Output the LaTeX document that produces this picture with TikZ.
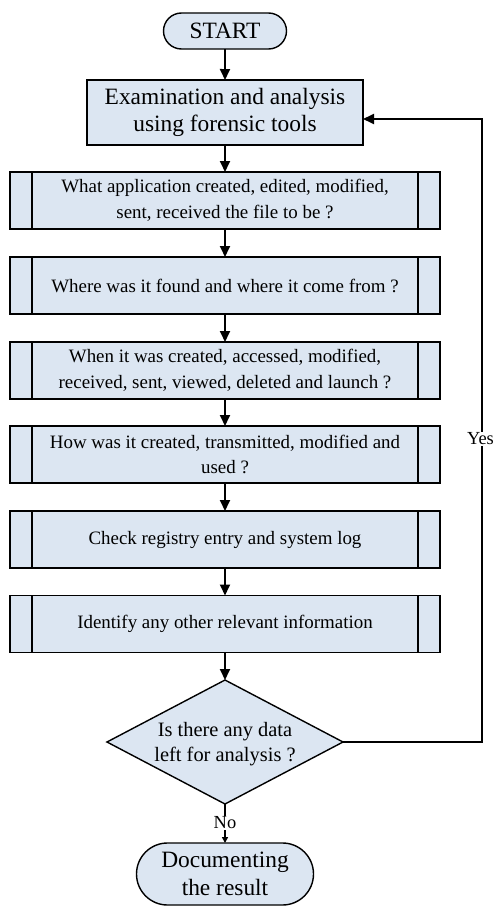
\documentclass[tikz,border=0pt]{standalone}
\usepackage{fontspec}
\setmainfont{Liberation Serif}
\usetikzlibrary{shapes.geometric,shapes.misc,arrows.meta,calc}
\definecolor{boxfill}{RGB}{220,230,242}
\begin{document}
\begin{tikzpicture}[x=1bp,y=-1bp,
  every node/.style={inner sep=0pt, outer sep=0pt},
  terminal/.style={rounded rectangle, draw, fill=boxfill, line width=1.4bp, align=center, font=\fontsize{23.5}{28}\selectfont},
  plainbox/.style={rectangle, draw, fill=boxfill, line width=1.4bp, align=center, minimum width=276bp, minimum height=65bp, font=\fontsize{23.5}{27}\selectfont},
  procbox/.style={rectangle, draw, fill=boxfill, line width=1.4bp, align=center, minimum width=430bp, minimum height=57bp, font=\fontsize{19}{26}\selectfont,
    path picture={
      \draw[line width=1.4bp] ([xshift=22bp]path picture bounding box.north west) -- ([xshift=22bp]path picture bounding box.south west);
      \draw[line width=1.4bp] ([xshift=-22bp]path picture bounding box.north east) -- ([xshift=-22bp]path picture bounding box.south east);
    }},
  decision/.style={diamond, draw, fill=boxfill, line width=1.4bp, minimum width=236bp, minimum height=124bp},
  arr/.style={line width=1.8bp, -{Triangle[width=10bp,length=11bp]}},
  smallarr/.style={line width=1.6bp, -{Triangle[width=6bp,length=6bp]}},
  lbl/.style={fill=white, inner sep=1bp, font=\fontsize{18.5}{22}\selectfont}
]
\useasboundingbox (0,0) rectangle (496,908);

\node[terminal, minimum width=123bp, minimum height=36bp] (start) at (225,31) {START};
\node[plainbox] (exam) at (225,112.5) {Examination and analysis\\using forensic tools};
\node[procbox] (p1) at (225,200.5) {What application created, edited, modified,\\sent, received the file to be ?};
\node[procbox] (p2) at (225,285.5) {Where was it found and where it come from ?};
\node[procbox] (p3) at (225,370.5) {When it was created, accessed, modified,\\received, sent, viewed, deleted and launch ?};
\node[procbox] (p4) at (225,454.5) {How was it created, transmitted, modified and\\used ?};
\node[procbox] (p5) at (225,539.5) {Check registry entry and system log};
\node[procbox] (p6) at (225,624) {Identify any other relevant information};
\node[decision] (dec) at (225,742) {};
\node[align=center, font=\fontsize{20.5}{25}\selectfont] (dectext) at (225,744) {Is there any data\\left for analysis ?};
\node[terminal, minimum width=177bp, minimum height=62bp] (doc) at (225,874) {Documenting\\the result};

\draw[arr] (start) -- (exam);
\draw[arr] (exam) -- (p1);
\draw[arr] (p1) -- (p2);
\draw[arr] (p2) -- (p3);
\draw[arr] (p3) -- (p4);
\draw[arr] (p4) -- (p5);
\draw[arr] (p5) -- (p6);
\draw[arr] (p6) -- (dec);

\coordinate (ycorner) at (482,742);
\draw[arr] (dec.east) -- (ycorner) |- ([yshift=-6.5bp]exam.east);
\node[lbl] (yes) at (480.5,439) {Yes};

\draw[smallarr] (dec.south) -- (doc.north);
\node[lbl] (no) at (225,823) {No};
\end{tikzpicture}
\end{document}
